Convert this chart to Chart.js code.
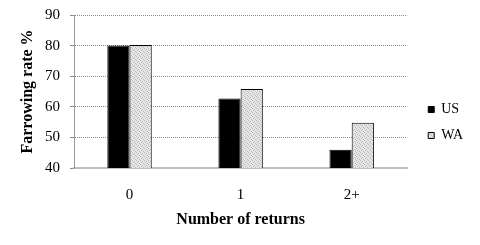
<!DOCTYPE html>
<html>
<head>
<meta charset="utf-8">
<script src="https://cdn.jsdelivr.net/npm/chart.js@4"></script>
<style>
  html, body { margin: 0; padding: 0; background: #fff; }
  #wrap { width: 480px; height: 245px; }
</style>
</head>
<body>
<div id="wrap"><canvas id="myChart" width="480" height="245"></canvas></div>
<script>
var categories = ['0', '1', '2+'];
var usValues = [80, 62.7, 46];
var waValues = [80.2, 65.8, 54.8];
var yTicks = [40, 50, 60, 70, 80, 90];

// stippled light grey fill for the WA bars
function stipple() {
    var c = document.createElement('canvas');
    c.width = 4; c.height = 4;
    var g = c.getContext('2d');
    g.fillStyle = '#e6e6e6';
    g.fillRect(0, 0, 4, 4);
    g.fillStyle = '#b8b8b8';
    g.fillRect(0, 0, 1, 1);
    g.fillRect(2, 1, 1, 1);
    g.fillRect(1, 2, 1, 1);
    g.fillRect(3, 3, 1, 1);
    return g.createPattern(c, 'repeat');
}

var serif = '"Liberation Serif", "Times New Roman", serif';

document.addEventListener('DOMContentLoaded', function() {
    var ctx = document.getElementById('myChart').getContext('2d');
    var myChart = new Chart(ctx, {
        type: 'bar',
        data: {
            labels: categories,
            datasets: [{
                label: 'US',
                data: usValues,
                backgroundColor: '#000',
                borderColor: '#000',
                borderWidth: 1
            }, {
                label: 'WA',
                data: waValues,
                backgroundColor: stipple(),
                borderColor: '#000',
                borderWidth: 1
            }]
        },
        options: {
            responsive: false,
            animation: false,
            categoryPercentage: 0.4,
            barPercentage: 1.0,
            layout: { padding: { top: 0, right: 7, bottom: 0, left: 0 } },
            plugins: {
                tooltip: { enabled: false },
                legend: {
                    position: 'right',
                    align: 'center',
                    labels: {
                        boxWidth: 6,
                        boxHeight: 6,
                        padding: 12,
                        color: '#000',
                        font: { family: serif, size: 14 }
                    }
                }
            },
            scales: {
                x: {
                    afterFit: function(s) { s.height = 77; },
                    grid: { display: false, drawTicks: false },
                    border: { display: true, color: '#bdbdbd', width: 2 },
                    ticks: { color: '#000', padding: 18, font: { family: serif, size: 15 } },
                    title: {
                        display: true,
                        text: 'Number of returns',
                        color: '#000',
                        padding: { top: 0, bottom: 16 },
                        font: { family: serif, size: 16, weight: 'bold' }
                    }
                },
                y: {
                    min: 40,
                    max: 90,
                    afterFit: function(s) { s.width = 74; },
                    afterBuildTicks: function(s) {
                        s.ticks = yTicks.map(function(v) { return { value: v }; });
                    },
                    grid: {
                        color: '#8a8a8a',
                        lineWidth: 1,
                        tickLength: 4,
                        tickColor: '#8a8a8a'
                    },
                    border: { display: true, color: '#9a9a9a', dash: [1, 1] },
                    ticks: {
                        color: '#000',
                        padding: 10,
                        autoSkip: false,
                        font: { family: serif, size: 15, lineHeight: '10px' }
                    },
                    title: {
                        display: true,
                        text: 'Farrowing rate %',
                        color: '#000',
                        padding: { top: 18, bottom: 0 },
                        font: { family: serif, size: 16, weight: 'bold' }
                    }
                },
                // empty right axis, only keeps the legend away from the plot
                gap: {
                    type: 'linear',
                    position: 'right',
                    afterFit: function(s) { s.width = 9; },
                    grid: { display: false },
                    border: { display: false },
                    ticks: { display: false }
                }
            }
        }
    });
});
</script>
</body>
</html>
